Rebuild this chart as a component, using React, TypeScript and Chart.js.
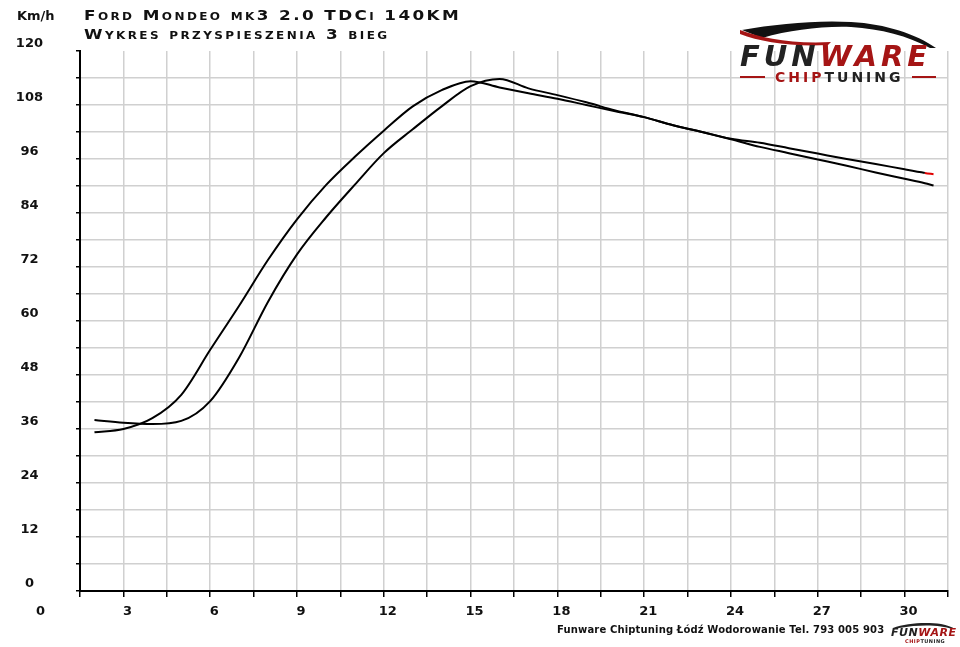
import React, { useRef, useEffect } from 'react';
import { Chart, registerables, Plugin } from 'chart.js';

// Register all Chart.js components
Chart.register(...registerables);

// czas w sekundach (os X)
const czas = [2, 3, 4, 5, 6, 7, 8, 9, 10, 11, 12, 13, 14, 15, 16, 17, 18, 19, 20, 21, 22, 23, 24, 25, 26, 27, 28, 29, 30, 30.7, 31];

// predkosc km/h - przebieg ktory wczesniej przyspiesza (konczy sie czerwonym odcinkiem)
const przebiegA = [35.3, 36.0, 38.4, 43.6, 53.6, 63.4, 73.6, 82.6, 90.2, 96.5, 102.3, 107.7, 111.3, 113.3, 111.9, 110.6, 109.4, 108.0, 106.6, 105.3, 103.5, 102.0, 100.5, 99.6, 98.4, 97.2, 96.0, 94.9, 93.7, 92.9, 92.6];

// predkosc km/h - drugi przebieg
const przebiegB = [38.0, 37.4, 37.1, 37.8, 42.2, 51.9, 64.3, 74.8, 83.0, 90.3, 97.3, 102.6, 107.7, 112.2, 113.8, 111.7, 110.2, 108.6, 106.8, 105.3, 103.5, 102.0, 100.4, 98.7, 97.3, 95.9, 94.5, 93.0, 91.6, 90.6, 90.1];

// etykiety osi
const xEtykiety = [3, 6, 9, 12, 15, 18, 21, 24, 27, 30];
const yEtykiety = [0, 12, 24, 36, 48, 60, 72, 84, 96, 108, 120];

const FONT = '"DejaVu Sans", Verdana, sans-serif';
const GRID = '#d0d0d0';

// "0" pod osia X stoi na pozycji x=0, poza obszarem wykresu
const zeroLabel: Plugin<'line'> = {
  id: 'zeroLabel',
  afterDraw(chart) {
    const sx = chart.scales.x;
    const ctx = chart.ctx;
    ctx.save();
    ctx.font = `bold 13px ${FONT}`;
    ctx.fillStyle = '#111';
    ctx.textAlign = 'center';
    ctx.textBaseline = 'middle';
    ctx.fillText('0', sx.getPixelForValue(0) + 4, sx.top + 21);
    ctx.restore();
  },
};

const App: React.FC = () => {
  const chartRef = useRef<HTMLCanvasElement>(null);
  const chartInstance = useRef<Chart | null>(null);

  useEffect(() => {
    document.body.style.margin = '0';
    if (!chartRef.current) return;
    if (chartInstance.current) chartInstance.current.destroy();
    const ctx = chartRef.current.getContext('2d');
    if (!ctx) return;

    const last = czas.length - 1;

    chartInstance.current = new Chart(ctx, {
      type: 'line',
      data: {
        datasets: [
          {
            label: 'A',
            data: czas.map((t, i) => ({ x: t, y: przebiegA[i] })),
            borderColor: '#000',
            borderWidth: 2,
            pointRadius: 0,
            cubicInterpolationMode: 'monotone',
            segment: {
              borderColor: (c: any) => (c.p1DataIndex === last ? '#e00000' : undefined),
            },
          },
          {
            label: 'B',
            data: czas.map((t, i) => ({ x: t, y: przebiegB[i] })),
            borderColor: '#000',
            borderWidth: 2,
            pointRadius: 0,
            cubicInterpolationMode: 'monotone',
          },
        ],
      },
      options: {
        animation: false,
        responsive: true,
        maintainAspectRatio: false,
        layout: { padding: { top: 51, right: 12, left: 0, bottom: 0 } },
        plugins: {
          legend: { display: false },
          tooltip: { enabled: false },
        },
        scales: {
          x: {
            type: 'linear',
            min: 1.5,
            max: 31.5,
            border: { display: true, color: '#000', width: 2 },
            grid: { color: GRID, lineWidth: 1.5, tickColor: '#000', tickLength: 6, tickWidth: 1.5 },
            ticks: {
              stepSize: 1.5,
              autoSkip: false,
              maxRotation: 0,
              labelOffset: 4,
              padding: 7,
              color: '#111',
              font: { family: FONT, size: 13, weight: 'bold' },
              callback: (v: any) => (xEtykiety.includes(Number(v)) ? String(v) : ''),
            },
            afterFit: (s: any) => {
              s.height = 56;
            },
          },
          y: {
            min: 0,
            max: 120,
            border: { display: true, color: '#000', width: 2 },
            grid: {
              color: (c: any) => (c.tick && c.tick.value === 120 ? 'rgba(0,0,0,0)' : GRID),
              lineWidth: 1.5,
              tickColor: '#000',
              tickLength: 4,
              tickWidth: 1.5,
            },
            ticks: {
              stepSize: 6,
              autoSkip: false,
              labelOffset: -7,
              padding: 33,
              crossAlign: 'center',
              color: '#111',
              font: { family: FONT, size: 13, weight: 'bold' },
              callback: (v: any) => (yEtykiety.includes(Number(v)) ? String(v) : ''),
            },
            afterFit: (s: any) => {
              s.width = 80;
            },
          },
        },
      },
      plugins: [zeroLabel],
    });

    return () => {
      if (chartInstance.current) {
        chartInstance.current.destroy();
        chartInstance.current = null;
      }
    };
  }, []);

  return (
    <div style={{ position: 'relative', width: 960, height: 647, background: '#fff', overflow: 'hidden' }}>
      <canvas ref={chartRef} />
      {/* jednostka osi Y */}
      <div style={{ position: 'absolute', left: 17, top: 8, font: `bold 13px ${FONT}`, color: '#111' }}>Km/h</div>
      {/* tytul */}
      <div
        style={{
          position: 'absolute',
          left: 84,
          top: 6,
          fontFamily: FONT,
          fontSize: 14,
          fontWeight: 'bold',
          lineHeight: '18.5px',
          fontVariant: 'small-caps',
          letterSpacing: 2,
          color: '#111',
          whiteSpace: 'nowrap',
          transform: 'scaleX(1.2)',
          transformOrigin: 'left top',
        }}
      >
        <div>Ford Mondeo mk3 2.0 TDCi 140KM</div>
        <div>Wykres przyspieszenia 3 bieg</div>
      </div>
      {/* logo */}
      <div style={{ position: 'absolute', left: 736, top: 18, width: 210, height: 72 }}>
        <svg width="210" height="32" style={{ position: 'absolute', left: 0, top: 0 }}>
          <path d="M6 12 C 40 6, 80 2, 115 4 C 150 6, 180 16, 200 30 L 194 30 C 172 18, 145 11, 115 9 C 85 8, 55 12, 26 20 Z" fill="#111" />
          <path d="M4 12 C 25 20, 55 26, 95 24 L 92 27 C 55 29, 25 24, 4 16 Z" fill="#a51515" />
        </svg>
        <div
          style={{
            position: 'absolute',
            left: 4,
            top: 22,
            font: `italic bold 29px ${FONT}`,
            letterSpacing: 4,
            lineHeight: '32px',
            whiteSpace: 'nowrap',
          }}
        >
          <span style={{ color: '#222' }}>FUN</span>
          <span style={{ color: '#a51515' }}>WARE</span>
        </div>
        <div style={{ position: 'absolute', left: 4, top: 58, width: 25, height: 2, background: '#a51515' }} />
        <div style={{ position: 'absolute', left: 176, top: 58, width: 24, height: 2, background: '#a51515' }} />
        <div
          style={{
            position: 'absolute',
            left: 39,
            top: 51,
            font: `bold 14px ${FONT}`,
            letterSpacing: 3,
            lineHeight: '16px',
            whiteSpace: 'nowrap',
          }}
        >
          <span style={{ color: '#a51515' }}>CHIP</span>
          <span style={{ color: '#222' }}>TUNING</span>
        </div>
      </div>
      {/* stopka */}
      <div
        style={{
          position: 'absolute',
          left: 557,
          top: 624,
          font: `bold 10px ${FONT}`,
          letterSpacing: 0.15,
          color: '#111',
          whiteSpace: 'nowrap',
        }}
      >
        Funware Chiptuning Łódź Wodorowanie Tel. 793 005 903
      </div>
      <div style={{ position: 'absolute', left: 891, top: 622, width: 66 }}>
        <svg width="66" height="8" style={{ position: 'absolute', left: 0, top: 0 }}>
          <path d="M2 6 C 15 1, 35 0, 50 2 C 56 3, 61 5, 64 7 L 61 7 C 50 3, 30 2, 8 6 Z" fill="#222" />
        </svg>
        <div style={{ position: 'absolute', left: 0, top: 4, font: `italic bold 11px ${FONT}`, letterSpacing: 0.5, whiteSpace: 'nowrap' }}>
          <span style={{ color: '#222' }}>FUN</span>
          <span style={{ color: '#a51515' }}>WARE</span>
        </div>
        <div style={{ position: 'absolute', left: 14, top: 16, font: `bold 5px ${FONT}`, letterSpacing: 0.5, whiteSpace: 'nowrap' }}>
          <span style={{ color: '#a51515' }}>CHIP</span>
          <span style={{ color: '#222' }}>TUNING</span>
        </div>
      </div>
    </div>
  );
};

export default App;
